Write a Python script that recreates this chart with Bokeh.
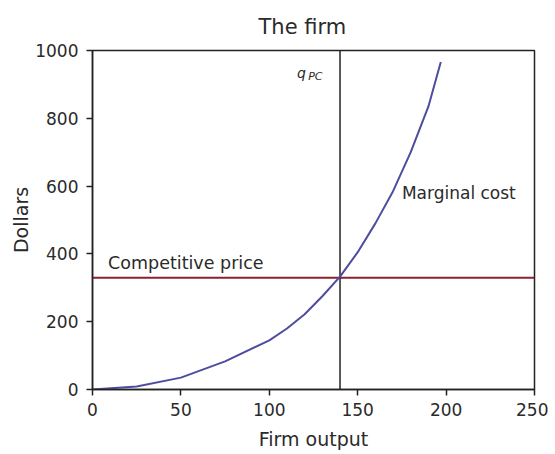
from bokeh.plotting import figure
from bokeh.models import Range1d, FixedTicker
from bokeh.core.properties import value
from bokeh.embed import file_html
from bokeh.resources import INLINE

# Data
output_q = [0, 25, 50, 75, 100, 110, 120, 130, 140, 150, 160, 170, 180, 190, 197]
marginal_cost = [0, 9, 35, 83, 145, 180, 222, 275, 333, 405, 490, 585, 700, 835, 966]
competitive_price = 330
q_pc = 140
x_ticks = [0, 50, 100, 150, 200, 250]
y_ticks = [0, 200, 400, 600, 800, 1000]

FONT = "DejaVu Sans"
TXT = "#2a2a2a"

p = figure(width=548, height=452, output_backend="svg", toolbar_location=None,
           x_range=Range1d(0, 250), y_range=Range1d(0, 1000),
           min_border_left=92, min_border_right=14, min_border_top=50, min_border_bottom=62,
           title="The firm")
p.title.align = "left"
p.title.offset = 166
p.title.standoff = 24
p.title.text_font = FONT
p.title.text_font_size = "21px"
p.title.text_font_style = "normal"
p.title.text_color = TXT

p.grid.visible = False
p.outline_line_color = "#222222"
p.outline_line_width = 1.5
p.outline_line_alpha = 1

for ax in (p.xaxis, p.yaxis):
    ax.axis_line_color = "#222222"
    ax.axis_line_width = 1.5
    ax.major_tick_line_color = "#222222"
    ax.major_tick_line_width = 1.5
    ax.major_tick_out = 6
    ax.major_tick_in = 0
    ax.minor_tick_line_color = None
    ax.major_label_text_font = FONT
    ax.major_label_text_font_size = "17px"
    ax.major_label_text_color = TXT
    ax.axis_label_text_font = FONT
    ax.axis_label_text_font_size = "19px"
    ax.axis_label_text_font_style = "normal"
    ax.axis_label_text_color = TXT

p.xaxis.ticker = FixedTicker(ticks=x_ticks)
p.yaxis.ticker = FixedTicker(ticks=y_ticks)
p.xaxis.axis_label = "Firm output"
p.yaxis.axis_label = "Dollars"
p.xaxis.major_label_standoff = 7
p.yaxis.major_label_standoff = 8
p.xaxis.axis_label_standoff = 9
p.yaxis.axis_label_standoff = 0

# competitive price line
p.line([0, 250], [competitive_price, competitive_price], line_color="#8b2033", line_width=2)
# q_PC vertical line
p.line([q_pc, q_pc], [0, 1000], line_color="#222222", line_width=1.5)
# marginal cost curve
p.line(output_q, marginal_cost, line_color="#4d4d9e", line_width=2)

p.text(x=[8.8], y=[374], text=["Competitive price"], text_font=value(FONT),
       text_font_size="17.5px", text_color=TXT, text_baseline="alphabetic", text_align="left")
p.text(x=[175], y=[579], text=["Marginal cost"], text_font=value(FONT),
       text_font_size="17px", text_color=TXT, text_baseline="alphabetic", text_align="left")
p.text(x=[115.6], y=[935], text=["q"], text_font=value(FONT), text_font_style="italic",
       text_font_size="14px", text_color=TXT, text_baseline="alphabetic", text_align="left")
p.text(x=[122], y=[922], text=["PC"], text_font=value(FONT), text_font_style="italic",
       text_font_size="11px", text_color=TXT, text_baseline="alphabetic", text_align="left")

open("out.html", "w").write(file_html(p, INLINE))
